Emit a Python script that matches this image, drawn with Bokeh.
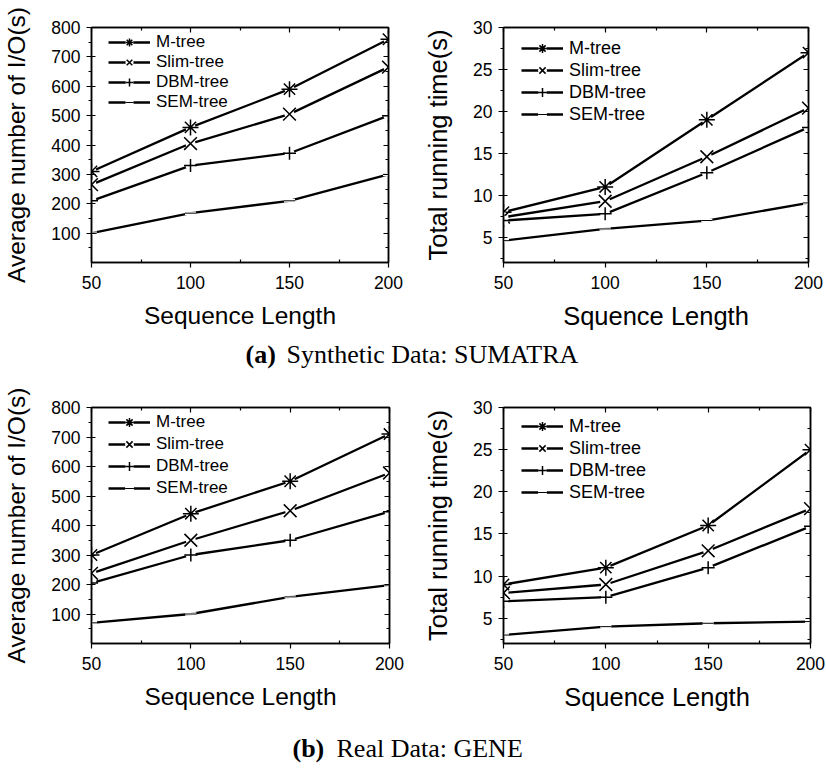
from bokeh.plotting import figure
from bokeh.models import (Range1d, FixedTicker, LinearAxis, Legend, LegendItem,
                          Label, CustomJSTickFormatter)
from bokeh.layouts import column, row
from bokeh.embed import file_html
from bokeh.resources import INLINE

# ---------------- data ----------------
seq_len = [50, 100, 150, 200]
series_names = ["M-tree", "Slim-tree", "DBM-tree", "SEM-tree"]
series_markers = ["asterisk", "x", "cross", "dash"]
marker_sizes = [16, 18, 13, 11]

# (a) Synthetic Data: SUMATRA
io_sumatra_m = [310, 460, 590, 760]
io_sumatra_slim = [265, 405, 505, 665]
io_sumatra_dbm = [210, 330, 372, 500]
io_sumatra_sem = [100, 168, 210, 300]

time_sumatra_m = [8.0, 11.0, 19.0, 27.0]
time_sumatra_slim = [7.4, 9.3, 14.6, 20.4]
time_sumatra_dbm = [7.0, 7.8, 12.7, 18.1]
time_sumatra_sem = [4.6, 6.0, 7.0, 9.1]

# (b) Real Data: GENE
io_gene_m = [300, 440, 550, 710]
io_gene_slim = [238, 350, 450, 578]
io_gene_dbm = [205, 300, 350, 447]
io_gene_sem = [70, 100, 158, 198]

time_gene_m = [9.0, 11.0, 16.0, 25.0]
time_gene_slim = [8.0, 9.0, 13.0, 18.0]
time_gene_dbm = [7.0, 7.5, 11.0, 15.9]
time_gene_sem = [3.0, 4.0, 4.4, 4.6]

x_ticks = [50, 100, 150, 200]
x_minor = [75, 125, 175]
io_ticks = [100, 200, 300, 400, 500, 600, 700, 800]
io_minor = [50, 150, 250, 350, 450, 550, 650, 750]
time_ticks = [5, 10, 15, 20, 25, 30]
time_minor = [2.5, 7.5, 12.5, 17.5, 22.5, 27.5]

SANS = "Liberation Sans"
SERIF = "Liberation Serif"


def make_panel(width, height, bl, br, bt, bb, yr, yticks, yminor, ylabel, xlabel,
               data, title_size, legend_font, row_h, leg_dx, first_center):
    p = figure(width=width, height=height, output_backend="svg", toolbar_location=None,
               x_range=Range1d(50, 200), y_range=Range1d(*yr),
               min_border_left=bl, min_border_right=br, min_border_top=bt,
               min_border_bottom=bb)
    p.xgrid.visible = False
    p.ygrid.visible = False
    p.outline_line_color = "black"
    p.outline_line_width = 1.5
    p.background_fill_color = "white"
    p.border_fill_color = "white"

    xa = p.xaxis[0]
    xa.ticker = FixedTicker(ticks=x_ticks, minor_ticks=x_minor)
    xa.axis_label = xlabel
    xa.axis_label_text_font = SANS
    xa.axis_label_text_font_style = "normal"
    xa.axis_label_text_font_size = title_size
    xa.axis_label_text_color = "black"
    xa.axis_label_standoff = 10
    xa.major_label_text_font = SANS
    xa.major_label_text_font_size = "17.5px"
    xa.major_label_text_color = "black"
    xa.major_label_standoff = 8
    xa.major_tick_in = 0
    xa.major_tick_out = 5
    xa.minor_tick_in = 3
    xa.minor_tick_out = 0
    xa.axis_line_width = 1.5
    xa.major_tick_line_width = 1.2
    xa.minor_tick_line_width = 1.2

    ya = p.yaxis[0]
    ya.ticker = FixedTicker(ticks=yticks, minor_ticks=yminor)
    ya.axis_label = ylabel
    ya.axis_label_text_font = SANS
    ya.axis_label_text_font_style = "normal"
    ya.axis_label_text_font_size = title_size
    ya.axis_label_text_color = "black"
    ya.axis_label_standoff = 18
    ya.major_label_text_font = SANS
    ya.major_label_text_font_size = "17.5px"
    ya.major_label_text_color = "black"
    ya.major_label_standoff = 6
    ya.major_tick_in = 4
    ya.major_tick_out = 5
    ya.minor_tick_in = 0
    ya.minor_tick_out = 3
    ya.axis_line_width = 1.5
    ya.major_tick_line_width = 1.2
    ya.minor_tick_line_width = 1.2

    blank = CustomJSTickFormatter(code="return ''")
    top = LinearAxis(ticker=FixedTicker(ticks=x_ticks, minor_ticks=x_minor),
                     formatter=blank, major_label_text_color=None,
                     major_label_standoff=0, major_tick_in=5, major_tick_out=0,
                     minor_tick_in=3, minor_tick_out=0, axis_line_width=1.5,
                     major_tick_line_width=1.2, minor_tick_line_width=1.2)
    p.add_layout(top, "above")
    right = LinearAxis(ticker=FixedTicker(ticks=yticks, minor_ticks=yminor),
                       formatter=blank, major_label_text_color=None,
                       major_label_standoff=0, major_tick_in=5, major_tick_out=0,
                       minor_tick_in=3, minor_tick_out=0, axis_line_width=1.5,
                       major_tick_line_width=1.2, minor_tick_line_width=1.2)
    p.add_layout(right, "right")

    items = []
    for name, ys, mk, ms in zip(series_names, data, series_markers, marker_sizes):
        r_line = p.line(seq_len, ys, line_color="black", line_width=2.3)
        if mk == "dash":
            r_gap = p.scatter(seq_len, ys, marker="dash", size=ms, line_color="white",
                              line_width=3.5)
            r_mk = p.scatter(seq_len, ys, marker="dash", size=ms, line_color="black",
                             line_width=1.0)
        else:
            r_gap = p.scatter(seq_len, ys, marker="circle", size=10, fill_color="white",
                              line_color=None)
            r_mk = p.scatter(seq_len, ys, marker=mk, size=ms, line_color="black",
                             line_width=1.5, fill_color=None)
        items.append(LegendItem(label=name, renderers=[r_line, r_gap, r_mk]))

    n = len(items)
    frame_h = height - bt - bb
    leg_h = n * row_h
    top_off = first_center - row_h / 2
    leg_vy = frame_h - top_off - leg_h
    legend = Legend(items=items, location=(leg_dx, leg_vy), margin=0, padding=0,
                    border_line_color=None, background_fill_alpha=0,
                    label_text_font=SANS, label_text_font_size=legend_font,
                    label_text_color="black",
                    glyph_width=42, glyph_height=row_h, label_height=row_h,
                    spacing=0, label_standoff=6)
    p.add_layout(legend)
    return p


def make_caption(height, bold_text, bold_x, rest_text, rest_x, mid_y):
    c = figure(width=826, height=height, output_backend="svg", toolbar_location=None,
               x_range=Range1d(0, 826), y_range=Range1d(0, height),
               x_axis_type=None, y_axis_type=None, min_border=0)
    c.outline_line_color = None
    c.background_fill_color = "white"
    c.border_fill_color = "white"
    c.add_layout(Label(x=bold_x, y=mid_y, x_units="screen", y_units="screen",
                       text=bold_text, text_font=SERIF, text_font_style="bold",
                       text_font_size="26px", text_color="black",
                       text_baseline="middle", text_align="left"))
    c.add_layout(Label(x=rest_x, y=mid_y, x_units="screen", y_units="screen",
                       text=rest_text, text_font=SERIF, text_font_style="normal",
                       text_font_size="26px", text_color="black",
                       text_baseline="middle", text_align="left"))
    return c


p1 = make_panel(413, 338, 90, 25, 27, 76, (0, 800), io_ticks, io_minor,
                "Average number of I/O(s)", "Sequence Length",
                [io_sumatra_m, io_sumatra_slim, io_sumatra_dbm, io_sumatra_sem],
                "24.5px", "17px", 20, 17, 15)
p2 = make_panel(413, 338, 90, 18, 21, 76, (2, 30), time_ticks, time_minor,
                "Total running time(s)", "Squence Length",
                [time_sumatra_m, time_sumatra_slim, time_sumatra_dbm, time_sumatra_sem],
                "25.5px", "18px", 22, 18, 27)
p3 = make_panel(413, 340, 90, 24, 27, 77, (0, 800), io_ticks, io_minor,
                "Average number of I/O(s)", "Sequence Length",
                [io_gene_m, io_gene_slim, io_gene_dbm, io_gene_sem],
                "24.5px", "17px", 22, 17, 15)
p4 = make_panel(413, 340, 90, 16, 21, 73, (2, 30), time_ticks, time_minor,
                "Total running time(s)", "Squence Length",
                [time_gene_m, time_gene_slim, time_gene_dbm, time_gene_sem],
                "25.5px", "18px", 22, 18, 29)

cap1 = make_caption(42, "(a)", 245, "Synthetic Data: SUMATRA", 286, 26)
cap2 = make_caption(48, "(b)", 292, "Real Data: GENE", 336, 20)

layout = column(row(p1, p2), cap1, row(p3, p4), cap2)

open("out.html", "w").write(file_html(layout, INLINE))
